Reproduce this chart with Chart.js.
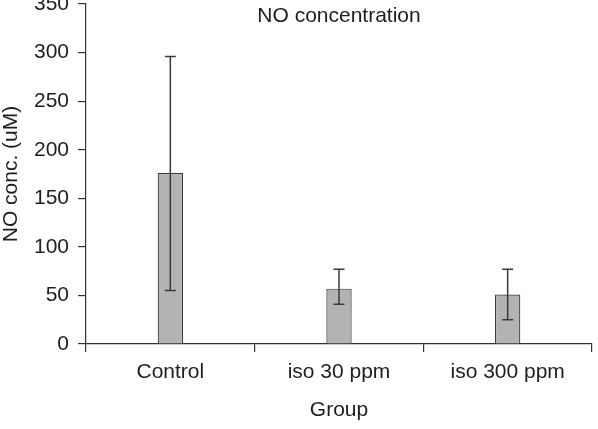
<!DOCTYPE html>
<html>
<head>
<meta charset="utf-8">
<script src="https://cdn.jsdelivr.net/npm/chart.js@4"></script>
<style>
  html, body { margin: 0; padding: 0; background: #fff; }
  #wrap { width: 598px; height: 429px; }
</style>
</head>
<body>
<div id="wrap"><canvas id="c" width="598" height="429"></canvas></div>
<script>
const groups  = ['Control', 'iso 30 ppm', 'iso 300 ppm']
const noConc  = [176, 57, 51]
const errLow  = [55, 41, 25]
const errHigh = [296, 77, 77]
const yTicks  = [0, 50, 100, 150, 200, 250, 300, 350]

const FONT = 'Liberation Sans, Arial, sans-serif'
const INK  = '#1e1e1e'

// error bars drawn on top of the bars
const errorBars = {
  id: 'errorBars',
  afterDatasetsDraw(chart) {
    const { ctx, scales: { y } } = chart
    const meta = chart.getDatasetMeta(0)
    ctx.save()
    ctx.strokeStyle = '#3a3a3a'
    ctx.lineWidth = 1.5
    meta.data.forEach((bar, i) => {
      const x = bar.x
      const top = y.getPixelForValue(errHigh[i])
      const bot = y.getPixelForValue(errLow[i])
      ctx.beginPath()
      ctx.moveTo(x, top); ctx.lineTo(x, bot)
      ctx.moveTo(x - 5.5, top); ctx.lineTo(x + 5.5, top)
      ctx.moveTo(x - 5.5, bot); ctx.lineTo(x + 5.5, bot)
      ctx.stroke()
    })
    ctx.restore()
  }
}

// title sits inside the plot area
const innerTitle = {
  id: 'innerTitle',
  afterDraw(chart) {
    const { ctx, chartArea } = chart
    ctx.save()
    ctx.fillStyle = INK
    ctx.font = '21px ' + FONT
    ctx.textAlign = 'center'
    ctx.textBaseline = 'middle'
    ctx.fillText('NO concentration', (chartArea.left + chartArea.right) / 2, 16)
    ctx.restore()
  }
}

new Chart(document.getElementById('c'), {
  type: 'bar',
  data: {
    labels: groups,
    datasets: [{
      data: noConc,
      backgroundColor: '#b3b3b3',
      borderColor: '#3a3a3a',
      borderWidth: 1.2,
      barPercentage: 0.5,
      categoryPercentage: 0.3,
    }]
  },
  options: {
    responsive: false,
    animation: false,
    devicePixelRatio: 1,
    layout: { autoPadding: false, padding: { top: 4, right: 6, left: 0, bottom: 0 } },
    plugins: { legend: { display: false }, tooltip: { enabled: false }, title: { display: false } },
    scales: {
      x: {
        offset: true,
        grid: { offset: true, drawOnChartArea: false, drawTicks: true, tickLength: 8, color: '#333', lineWidth: 1.2 },
        border: { display: true, color: '#333', width: 1.2 },
        ticks: { color: INK, font: { family: FONT, size: 21 }, padding: 8, maxRotation: 0 },
        title: { display: true, text: 'Group', color: INK, font: { family: FONT, size: 21, lineHeight: 1.2 }, padding: { top: 0, bottom: 6 } },
        afterFit(s) { s.height = 85; s.paddingLeft = 0; s.paddingRight = 0 },
      },
      y: {
        min: 0, max: 350,
        afterBuildTicks(s) { s.ticks = yTicks.map(v => ({ value: v })) },
        grid: { drawOnChartArea: false, drawTicks: true, tickLength: 8, color: '#333', lineWidth: 1.2 },
        border: { display: true, color: '#333', width: 1.2 },
        ticks: { color: INK, font: { family: FONT, size: 21 }, padding: 9 },
        title: { display: true, text: 'NO conc. (uM)', color: INK, font: { family: FONT, size: 21, lineHeight: 1.1 }, padding: { top: 0, bottom: 0 } },
        afterFit(s) { s.width = 86; s.paddingTop = 0; s.paddingBottom = 0 },
      }
    }
  },
  plugins: [errorBars, innerTitle]
})
</script>
</body>
</html>
